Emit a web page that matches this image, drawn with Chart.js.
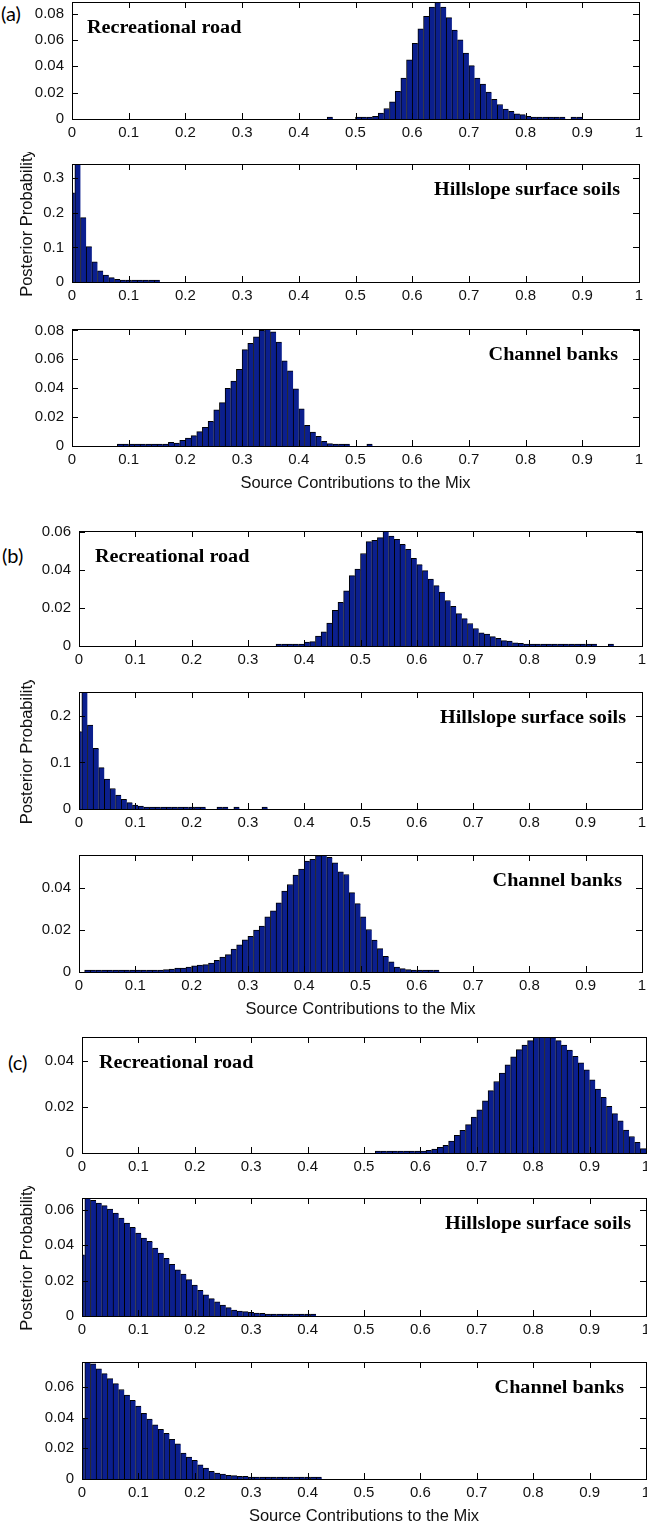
<!DOCTYPE html>
<html>
<head>
<meta charset="utf-8">
<script src="https://cdn.jsdelivr.net/npm/chart.js@4.4.1/dist/chart.umd.min.js"></script>
<style>
  html, body { margin: 0; padding: 0; background: #fff; }
  body { width: 647px; height: 1523px; position: relative; overflow: hidden; }
  canvas { position: absolute; left: 0; }
  .tag { position: absolute; font: 20px Lato, "Open Sans", sans-serif; line-height: 1; color: #000; }
</style>
</head>
<body>
<div class="tag" style="left:1px; top:3px">(a)</div>
<div class="tag" style="left:2px; top:545px">(b)</div>
<div class="tag" style="left:8px; top:1052px">(c)</div>

<canvas id="a1"></canvas>
<canvas id="a2"></canvas>
<canvas id="a3"></canvas>
<canvas id="b1"></canvas>
<canvas id="b2"></canvas>
<canvas id="b3"></canvas>
<canvas id="c1"></canvas>
<canvas id="c2"></canvas>
<canvas id="c3"></canvas>

<script>
'use strict';


// Histogram bins are 0.01 wide, the x axis runs 0..1 in every panel
//
var BIN = 0.01;
var X_TICKS = [0, 0.1, 0.2, 0.3, 0.4, 0.5, 0.6, 0.7, 0.8, 0.9, 1];
var X_TICK_LABELS = ['0', '0.1', '0.2', '0.3', '0.4', '0.5', '0.6', '0.7', '0.8', '0.9', '1'];

var Y_TICKS_002_08 = [0, 0.02, 0.04, 0.06, 0.08];
var Y_TICKS_002_06 = [0, 0.02, 0.04, 0.06];
var Y_TICKS_002_04 = [0, 0.02, 0.04];
var Y_TICKS_01_3 = [0, 0.1, 0.2, 0.3];
var Y_TICKS_01_2 = [0, 0.1, 0.2];


// (a) posterior probabilities, first value is the bin centred on *_FIRST
//
var A_ROAD_FIRST = 0.455;
var A_ROAD = [0.0006, 0, 0, 0, 0, 0.0005, 0.0006, 0.0008, 0.002, 0.0045,
  0.008, 0.013, 0.021, 0.031, 0.045, 0.0575, 0.0685, 0.078, 0.085, 0.0888,
  0.085, 0.077, 0.0675, 0.06, 0.05, 0.0405, 0.031, 0.0265, 0.0205, 0.015,
  0.011, 0.0075, 0.0058, 0.004, 0.0033, 0.002, 0.0015, 0.0008, 0.0008, 0.0008,
  0.0008, 0.0008, 0, 0.0008, 0.0008];

var A_HILL_FIRST = 0;
var A_HILL = [0.258, 0.36, 0.186, 0.102, 0.058, 0.032, 0.02, 0.0125, 0.0077, 0.005,
  0.003, 0.0025, 0.002, 0.002, 0.002, 0.002];

var A_BANK_FIRST = 0.085;
var A_BANK = [0.0005, 0.0005, 0.0005, 0.0005, 0.0005, 0.0005, 0.0005, 0.0005, 0.0005,
  0.0025, 0.002, 0.004, 0.0055, 0.0072, 0.01, 0.013, 0.017, 0.025, 0.03,
  0.04, 0.045, 0.053, 0.0667, 0.071, 0.0756, 0.08, 0.081, 0.079, 0.072,
  0.059, 0.052, 0.0395, 0.0258, 0.0143, 0.0097, 0.0067, 0.0032, 0.0016, 0.0007,
  0.0007, 0.0007, 0, 0, 0, 0.0007];


// (b)
//
var B_ROAD_FIRST = 0.355;
var B_ROAD = [0.0005, 0.0005, 0.0005, 0.0005,
  0.001, 0.002, 0.0023, 0.0052, 0.0075, 0.012, 0.0187, 0.023, 0.029, 0.037,
  0.0404, 0.0486, 0.0548, 0.0555, 0.0569, 0.0604, 0.0577, 0.056, 0.0534, 0.0508,
  0.0461, 0.0427, 0.0396, 0.0352, 0.0317, 0.0283, 0.0239, 0.0208, 0.017, 0.0144,
  0.0118, 0.0092, 0.0069, 0.0062, 0.0049, 0.004, 0.0028, 0.0026, 0.0017, 0.0014,
  0.001, 0.001, 0.0004, 0.0004, 0.0004, 0.0004, 0.0004, 0.0004, 0.0004, 0.0004,
  0.0004, 0.0004, 0.0003, 0, 0, 0.0005];

var B_HILL_FIRST = 0;
var B_HILL = [0.166, 0.27, 0.18, 0.13, 0.0886, 0.064, 0.044, 0.03, 0.0207, 0.0136,
  0.0086, 0.0064, 0.0036, 0.0018, 0.0018, 0.0018, 0.0018, 0.0018, 0.0018, 0.0018,
  0.0018, 0.0018, 0.0018, 0, 0, 0.0015, 0.0015, 0, 0.0013, 0,
  0, 0, 0, 0.0012];

var B_BANK_FIRST = 0.015;
var B_BANK = [0.0005, 0.0005, 0.0005, 0.0005, 0.0005, 0.0005, 0.0005, 0.0005, 0.0005,
  0.0005, 0.0005, 0.0005, 0.0005, 0.0005,
  0.0011, 0.0014, 0.0019, 0.0019, 0.0024, 0.003, 0.0033, 0.0035, 0.0043, 0.0056,
  0.0071, 0.0083, 0.011, 0.013, 0.0154, 0.0171, 0.02, 0.0219, 0.0264, 0.0292,
  0.0331, 0.0387, 0.0418, 0.0463, 0.0492, 0.053, 0.0538, 0.0556, 0.0559, 0.0548,
  0.0522, 0.0479, 0.0466, 0.0379, 0.0327, 0.0264, 0.0203, 0.0152, 0.0112, 0.0075,
  0.0048, 0.0024, 0.0016, 0.0011, 0.0005, 0.0005, 0.0005, 0.0005, 0.0005];


// (c)
//
var C_ROAD_FIRST = 0.525;
var C_ROAD = [0.0004, 0.0004, 0.0004, 0.0004, 0.0004, 0.0004, 0.0004, 0.0004,
  0.0008, 0.0012, 0.0017, 0.0025, 0.0033, 0.0052, 0.0077, 0.0099, 0.0124, 0.0157,
  0.0188, 0.0228, 0.0272, 0.0312, 0.0349, 0.0385, 0.0419, 0.0451, 0.0471, 0.049,
  0.0504, 0.0506, 0.0506, 0.0503, 0.049, 0.0471, 0.0449, 0.0422, 0.0393, 0.0363,
  0.0319, 0.0279, 0.0243, 0.0204, 0.0172, 0.014, 0.01, 0.0072, 0.0047, 0.0019];

var C_HILL_FIRST = 0;
var C_HILL = [0.0345, 0.0666, 0.0653, 0.0638, 0.0623, 0.0604, 0.0581, 0.0553, 0.0525, 0.05,
  0.0468, 0.044, 0.0421, 0.0383, 0.0355, 0.0326, 0.0292, 0.026, 0.0236, 0.0205,
  0.0175, 0.0145, 0.012, 0.0098, 0.008, 0.0062, 0.0047, 0.0034, 0.0028, 0.0025,
  0.0021, 0.0017, 0.0015, 0.0011, 0.0006, 0.0006, 0.0006, 0.0006, 0.0006, 0.0006,
  0.0006, 0.0006];

var C_BANK_FIRST = 0;
var C_BANK = [0.0395, 0.0762, 0.075, 0.0718, 0.0686, 0.0654, 0.0621, 0.0583, 0.0546, 0.0513,
  0.0475, 0.0427, 0.039, 0.0352, 0.0324, 0.0297, 0.0259, 0.0229, 0.0168, 0.0142,
  0.0121, 0.0093, 0.0071, 0.005, 0.0039, 0.0032, 0.0024, 0.0022, 0.0017, 0.0017,
  0.0009, 0.0006, 0.0006, 0.0006, 0.0006, 0.0006, 0.0006, 0.0006, 0.0006, 0.0006,
  0.0006, 0.0006, 0.0006];


var BAR_FILL = '#0b1f8e';
var TEXT = '#111';
var TICK_LEN = 6;
var TITLE_STRETCH = 1.12;

Chart.defaults.font.family = '"Liberation Sans", Arial, sans-serif';
Chart.defaults.color = TEXT;


// Box round the plot and inward tick marks on all four sides
//
var axesBox = {
  id: 'axesBox',
  afterDatasetsDraw: function(chart) {
    var a = chart.chartArea, ctx = chart.ctx;
    var sx = chart.scales.x, sy = chart.scales.y;
    ctx.save();
    ctx.strokeStyle = '#000';
    ctx.lineWidth = 1;
    ctx.beginPath();
    sx.ticks.forEach(function(t) {
      var px = Math.round(sx.getPixelForValue(t.value)) + 0.5;
      ctx.moveTo(px, a.bottom); ctx.lineTo(px, a.bottom - TICK_LEN);
      ctx.moveTo(px, a.top); ctx.lineTo(px, a.top + TICK_LEN);
    });
    sy.ticks.forEach(function(t) {
      var py = Math.round(sy.getPixelForValue(t.value)) + 0.5;
      ctx.moveTo(a.left, py); ctx.lineTo(a.left + TICK_LEN, py);
      ctx.moveTo(a.right, py); ctx.lineTo(a.right - TICK_LEN, py);
    });
    ctx.stroke();
    ctx.strokeRect(a.left + 0.5, a.top + 0.5, a.right - a.left, a.bottom - a.top);
    ctx.restore();
  }
};


// Source name written inside each panel
//
var panelName = {
  id: 'panelName',
  afterDatasetsDraw: function(chart, args, opts) {
    var a = chart.chartArea, ctx = chart.ctx;
    ctx.save();
    ctx.font = 'bold 18px "Liberation Serif", "Times New Roman", serif';
    ctx.fillStyle = '#000';
    ctx.textBaseline = 'alphabetic';
    var w = ctx.measureText(opts.text).width * TITLE_STRETCH;
    var x = opts.align === 'left' ? a.left + opts.dx : a.right - opts.dx - w;
    ctx.translate(x, a.top + opts.dy);
    ctx.scale(TITLE_STRETCH, 1);
    ctx.fillText(opts.text, 0, 0);
    ctx.restore();
  }
};


function tickText(v) {
  return String(+v.toFixed(2));
}


function drawPanel(p) {
  var padTop = Math.min(12, p.top);
  var padLeft = 18;
  var axisH = p.xTitle ? 47 : 24;
  var canvas = document.getElementById(p.id);
  canvas.width = 647;
  canvas.height = padTop + (p.bottom - p.top) + axisH;
  canvas.style.top = (p.top - padTop) + 'px';

  var points = p.values.map(function(v, i) {
    return { x: p.first + i * BIN, y: v > 0 ? v : null };
  });

  new Chart(canvas, {
    type: 'bar',
    data: {
      datasets: [{
        data: points,
        backgroundColor: BAR_FILL,
        borderColor: '#000',
        borderWidth: { left: 1, top: 1, right: 0, bottom: 0 },
        borderSkipped: false,
        barPercentage: 1,
        categoryPercentage: 1,
        minBarLength: 2,
        clip: 0
      }]
    },
    options: {
      responsive: false,
      animation: false,
      devicePixelRatio: 1,
      layout: { padding: { top: padTop, left: padLeft, right: 647 - p.right, bottom: 0 } },
      plugins: {
        legend: { display: false },
        tooltip: { enabled: false },
        panelName: { text: p.name, align: p.align, dx: p.dx, dy: 31 }
      },
      scales: {
        x: {
          type: 'linear',
          min: 0,
          max: 1,
          offset: false,
          grid: { display: false, drawTicks: false },
          border: { display: false },
          afterBuildTicks: function(s) { s.ticks = X_TICKS.map(function(v) { return { value: v }; }); },
          afterFit: function(s) { s.height = axisH; s.paddingLeft = 0; s.paddingRight = 0; },
          ticks: {
            padding: 5,
            maxRotation: 0,
            autoSkip: false,
            font: { size: 15 },
            callback: function(v, i) { return X_TICK_LABELS[i]; }
          },
          title: {
            display: !!p.xTitle,
            text: 'Source Contributions to the Mix',
            font: { size: 16.5 },
            padding: 0
          }
        },
        y: {
          min: 0,
          max: p.yMax,
          grid: { display: false, drawTicks: false },
          border: { display: false },
          afterBuildTicks: function(s) { s.ticks = p.yTicks.map(function(v) { return { value: v }; }); },
          afterFit: function(s) { s.width = p.left - padLeft; s.paddingTop = 0; s.paddingBottom = 0; },
          ticks: {
            padding: 8,
            font: { size: 15 },
            callback: function(v) { return tickText(v); }
          },
          title: {
            display: !!p.yTitle,
            text: 'Posterior Probability',
            font: { size: 16.5 },
            padding: 0
          }
        }
      }
    },
    plugins: [axesBox, panelName]
  });
}


var panels = [
  { id: 'a1', first: A_ROAD_FIRST, values: A_ROAD, yMax: 0.0888, yTicks: Y_TICKS_002_08,
    name: 'Recreational road', align: 'left', dx: 15, top: 2, bottom: 119, left: 72, right: 639 },
  { id: 'a2', first: A_HILL_FIRST, values: A_HILL, yMax: 0.341, yTicks: Y_TICKS_01_3, yTitle: true,
    name: 'Hillslope surface soils', align: 'right', dx: 19, top: 164, bottom: 282, left: 72, right: 639 },
  { id: 'a3', first: A_BANK_FIRST, values: A_BANK, yMax: 0.081, yTicks: Y_TICKS_002_08, xTitle: true,
    name: 'Channel banks', align: 'right', dx: 21, top: 329, bottom: 446, left: 72, right: 639 },

  { id: 'b1', first: B_ROAD_FIRST, values: B_ROAD, yMax: 0.0604, yTicks: Y_TICKS_002_06,
    name: 'Recreational road', align: 'left', dx: 16, top: 531, bottom: 646, left: 79, right: 642 },
  { id: 'b2', first: B_HILL_FIRST, values: B_HILL, yMax: 0.251, yTicks: Y_TICKS_01_2, yTitle: true,
    name: 'Hillslope surface soils', align: 'right', dx: 16, top: 692, bottom: 809, left: 79, right: 642 },
  { id: 'b3', first: B_BANK_FIRST, values: B_BANK, yMax: 0.0559, yTicks: Y_TICKS_002_04, xTitle: true,
    name: 'Channel banks', align: 'right', dx: 20, top: 855, bottom: 972, left: 79, right: 642 },

  { id: 'c1', first: C_ROAD_FIRST, values: C_ROAD, yMax: 0.0506, yTicks: Y_TICKS_002_04,
    name: 'Recreational road', align: 'left', dx: 17, top: 1037, bottom: 1153, left: 82, right: 646 },
  { id: 'c2', first: C_HILL_FIRST, values: C_HILL, yMax: 0.0666, yTicks: Y_TICKS_002_06, yTitle: true,
    name: 'Hillslope surface soils', align: 'right', dx: 15, top: 1198, bottom: 1316, left: 82, right: 646 },
  { id: 'c3', first: C_BANK_FIRST, values: C_BANK, yMax: 0.0762, yTicks: Y_TICKS_002_06, xTitle: true,
    name: 'Channel banks', align: 'right', dx: 22, top: 1362, bottom: 1479, left: 82, right: 646 }
];

panels.forEach(drawPanel);
</script>
</body>
</html>
